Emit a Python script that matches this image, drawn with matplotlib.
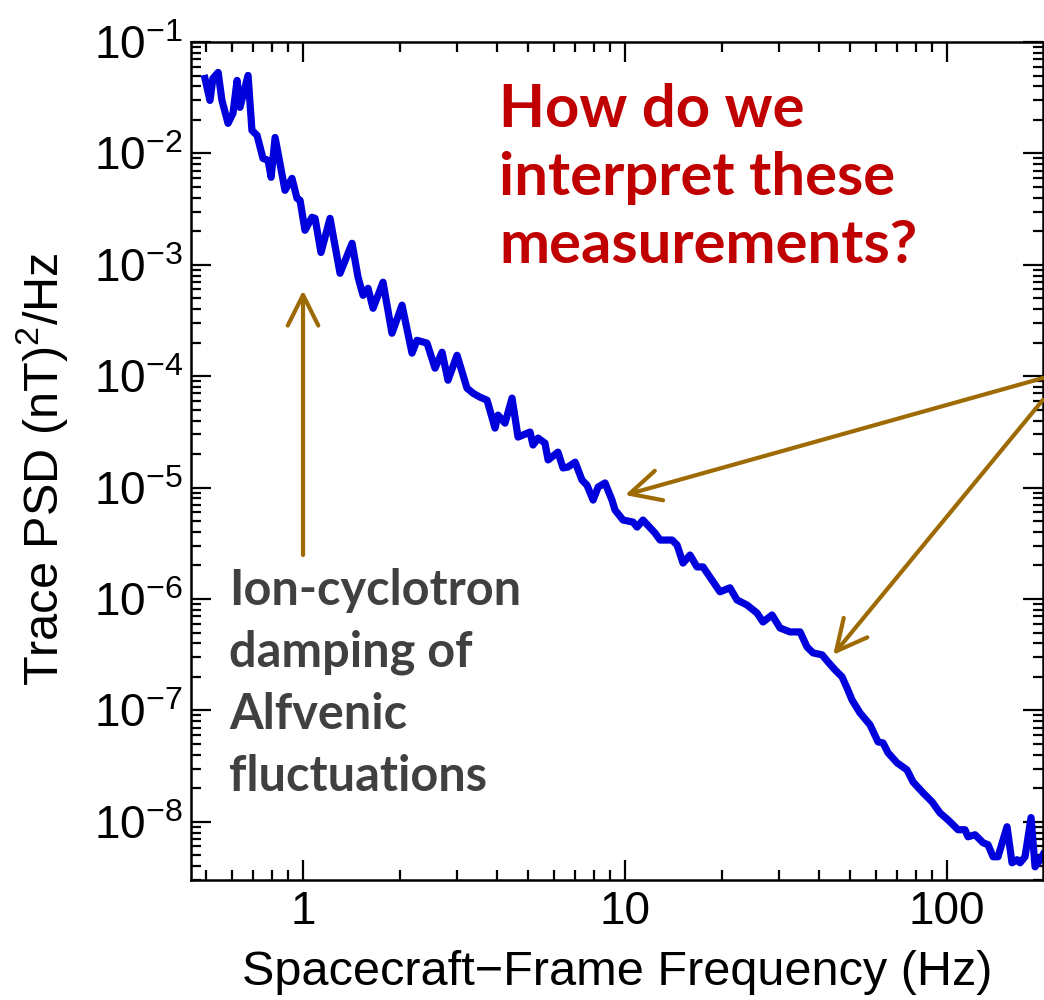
import numpy as np
import matplotlib
matplotlib.use("Agg")
import matplotlib.pyplot as plt
from matplotlib.ticker import LogLocator, FuncFormatter, NullFormatter

plt.rcParams["font.family"] = ["Liberation Sans", "DejaVu Sans"]
plt.rcParams["mathtext.fontset"] = "custom"
plt.rcParams["mathtext.rm"] = "Liberation Sans"
plt.rcParams["mathtext.it"] = "Liberation Sans"

# ─── data ───────────────────────────────────────────────────────────────
freq = [0.496, 0.514, 0.525, 0.545, 0.560, 0.585, 0.606, 0.624, 0.637, 0.675,
        0.694, 0.720, 0.751, 0.779, 0.796, 0.819, 0.879, 0.924, 0.958, 0.979,
        1.014, 1.066, 1.090, 1.137, 1.213, 1.303, 1.420, 1.482, 1.536, 1.592,
        1.650, 1.772, 1.889, 2.030, 2.180, 2.259, 2.427, 2.570, 2.702, 2.820,
        3.008, 3.231, 3.373, 3.545, 3.728, 3.947, 4.033, 4.240, 4.458, 4.654,
        5.07, 5.18, 5.37, 5.64, 5.77, 6.19, 6.42, 6.65, 7.00, 7.35,
        7.62, 7.96, 8.25, 8.67, 9.11, 9.31, 9.86, 10.59, 10.90, 11.37,
        12.39, 12.85, 14.00, 14.51, 15.14, 15.92, 16.73, 17.47, 18.36, 19.72,
        21.18, 22.27, 23.92, 25.70, 26.83, 28.61, 30.30, 32.54, 34.96, 36.75,
        38.36, 40.92, 42.71, 44.89, 47.20, 48.92, 50.70, 53.68, 57.67, 61.07,
        63.29, 65.60, 69.96, 75.12, 78.42, 84.23, 89.83, 95.11, 100.7, 108.2,
        113.7, 116.2, 122.2, 129.4, 134.1, 139.0, 144.0, 153.6, 159.2, 165.0,
        168.6, 174.7, 182.4, 187.7, 194.5, 198.6]
psd = [4.71e-2, 2.99e-2, 4.71e-2, 5.33e-2, 2.99e-2, 1.86e-2, 2.29e-2, 4.52e-2, 2.59e-2, 5.01e-2,
       1.61e-2, 1.45e-2, 9.02e-3, 8.66e-3, 6.10e-3, 1.39e-2, 4.66e-3, 5.97e-3, 3.95e-3, 3.79e-3,
       2.04e-3, 2.67e-3, 2.61e-3, 1.29e-3, 2.61e-3, 8.39e-4, 1.56e-3, 7.73e-4, 5.32e-4, 6.15e-4,
       4.07e-4, 6.97e-4, 2.43e-4, 4.34e-4, 1.61e-4, 2.10e-4, 1.98e-4, 1.18e-4, 1.64e-4, 9.2e-5,
       1.54e-4, 7.8e-5, 7.03e-5, 6.48e-5, 6.09e-5, 3.42e-5, 4.47e-5, 3.79e-5, 6.35e-5, 2.84e-5,
       3.15e-5, 2.41e-5, 2.78e-5, 2.51e-5, 1.77e-5, 2.08e-5, 1.50e-5, 1.53e-5, 1.69e-5, 1.17e-5,
       1.05e-5, 7.72e-6, 1.01e-5, 1.10e-5, 7.72e-6, 6.29e-6, 5.11e-6, 4.90e-6, 4.42e-6, 5.11e-6,
       3.91e-6, 3.38e-6, 3.38e-6, 3.05e-6, 2.10e-6, 2.48e-6, 1.94e-6, 1.94e-6, 1.57e-6, 1.16e-6,
       1.26e-6, 9.8e-7, 8.83e-7, 7.48e-7, 6.21e-7, 7.18e-7, 5.49e-7, 5.06e-7, 5.06e-7, 3.71e-7,
       3.28e-7, 3.15e-7, 2.72e-7, 2.31e-7, 2.00e-7, 1.59e-7, 1.24e-7, 9.49e-8, 7.41e-8, 5.21e-8,
       5.10e-8, 4.16e-8, 3.38e-8, 2.92e-8, 2.28e-8, 1.82e-8, 1.51e-8, 1.20e-8, 1.04e-8, 8.48e-9,
       8.48e-9, 7.33e-9, 7.64e-9, 6.48e-9, 6.22e-9, 4.85e-9, 4.85e-9, 9.02e-9, 4.28e-9, 4.56e-9,
       4.28e-9, 4.85e-9, 1.09e-8, 3.94e-9, 4.56e-9, 5.06e-9]

# arrow targets (data units) and annotation text
ic_arrow = (1.0, 5.9e-4, 2.48e-6)      # x, head y, tail y
brk_heads = [(10.0, 8.57e-6), (44.3, 3.15e-7)]
brk_tails_frac = [0.599, 0.573]
question = "How do we\ninterpret these\nmeasurements?"
ic_text = "Ion-cyclotron\ndamping of\nAlfvenic\nfluctuations"

ARROW_C = "#9E6A03"

fig = plt.figure(figsize=(10.44, 10.0), dpi=100)
ax = fig.add_axes([0.183, 0.12, 0.816, 0.838])

ax.loglog(freq, psd, color="#0000DD", lw=5.2, solid_joinstyle="round")
ax.set_xlim(0.449, 198.6)
ax.set_ylim(3.0e-9, 1e-1)

# ticks, IDL style: inward on all four sides
ax.xaxis.set_major_locator(LogLocator(base=10, numticks=20))
ax.xaxis.set_minor_locator(LogLocator(base=10, subs=np.arange(2, 10), numticks=20))
ax.yaxis.set_major_locator(LogLocator(base=10, numticks=20))
ax.yaxis.set_minor_locator(LogLocator(base=10, subs=np.arange(2, 10), numticks=20))
ax.xaxis.set_major_formatter(FuncFormatter(lambda v, p: f"{v:g}"))
ax.yaxis.set_major_formatter(FuncFormatter(lambda v, p: r"$10^{%d}$" % round(np.log10(v))))
ax.xaxis.set_minor_formatter(NullFormatter())
ax.yaxis.set_minor_formatter(NullFormatter())
ax.tick_params(which="both", direction="in", top=True, right=True, width=1.6)
ax.tick_params(which="major", length=14.5)
ax.tick_params(which="minor", length=7.5)
ax.tick_params(axis="x", labelsize=33, pad=7)
ax.tick_params(axis="y", labelsize=33, pad=6)
for s in ax.spines.values():
    s.set_linewidth(1.8)

ax.set_xlabel("Spacecraft\u2212Frame Frequency (Hz)", fontsize=35)
ax.set_ylabel(r"Trace PSD (nT)$^2$/Hz", fontsize=35)
ax.xaxis.set_label_coords(0.5, -0.084)
ax.yaxis.set_label_coords(-0.142, 0.49)

# ─── annotations ─────────────────────────────────────────────────────────
aprops = dict(arrowstyle="->,head_length=1.0,head_width=0.5", color=ARROW_C,
              lw=3.0, mutation_scale=22, shrinkA=0, shrinkB=0)
ax.annotate("", xy=(ic_arrow[0], ic_arrow[1]), xytext=(ic_arrow[0], ic_arrow[2]),
            arrowprops=aprops)
for (hx, hy), ty in zip(brk_heads, brk_tails_frac):
    ax.annotate("", xy=(hx, hy), xycoords="data", xytext=(1.0, ty),
                textcoords="axes fraction", arrowprops=aprops, annotation_clip=False)

ax.text(0.362, 0.951, question, transform=ax.transAxes, fontsize=43,
        fontweight="bold", color="#C00000", family=["Lato", "DejaVu Sans"],
        va="top", ha="left", linespacing=1.32)
ax.text(0.045, 0.372, ic_text, transform=ax.transAxes, fontsize=35,
        fontweight="bold", color="#404040", family=["Lato", "DejaVu Sans"],
        va="top", ha="left", linespacing=1.45)

fig.savefig("out.png", dpi=100)
